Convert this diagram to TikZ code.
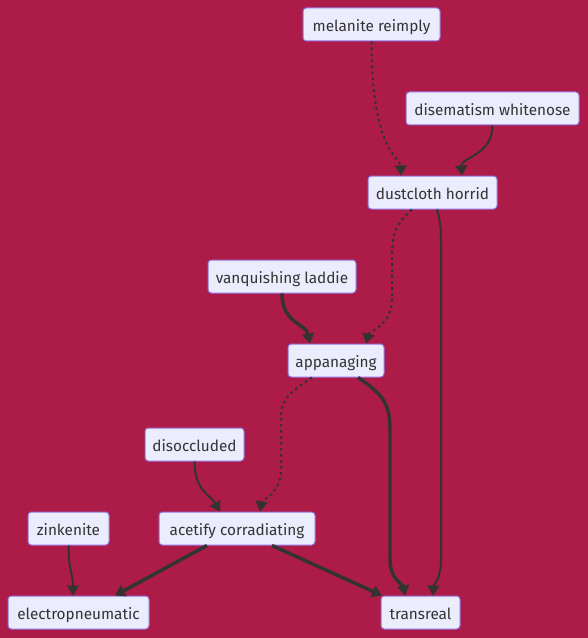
\documentclass[tikz,border=0pt]{standalone}
\usepackage{fontspec}
\setmainfont{Fira Sans}
\usetikzlibrary{arrows.meta,calc}
\definecolor{bgc}{HTML}{AD1C48}
\definecolor{nodefill}{HTML}{ECECFF}
\definecolor{nodeline}{HTML}{9370DB}
\definecolor{edgec}{HTML}{333333}
\begin{document}
\begin{tikzpicture}[x=0.75pt,y=-0.75pt,
  box/.style={draw=nodeline,fill=nodefill,line width=0.75pt,rounded corners=2.5pt,
    minimum height=24.75pt,inner xsep=0pt,inner ysep=0pt,text height=11pt,text depth=1pt,text=edgec,font=\fontsize{11.5}{14}\selectfont,anchor=center},
  tipc/.style={-{Triangle[length=7.5pt,width=9pt]}},
  normal/.style={draw=edgec,line width=1.5pt,tipc},
  thickl/.style={draw=edgec,line width=2.6pt,tipc},
  dotl/.style={draw=edgec,line width=1.5pt,dash pattern=on 2pt off 2.5pt,tipc}]
\fill[bgc] (0,0) rectangle (588,638);
\useasboundingbox (0,0) rectangle (588,638);
\node[box,minimum width=102.75pt] (mel) at (371.5,24.5) {melanite reimply};
\node[box,minimum width=129.75pt] (dis) at (492.5,108.5) {disematism whitenose};
\node[box,minimum width=96.75pt] (dust) at (432.5,192.5) {dustcloth horrid};
\node[box,minimum width=111pt] (vanq) at (282,276.5) {vanquishing laddie};
\node[box,minimum width=72pt] (app) at (336,360.5) {appanaging};
\node[box,minimum width=74.25pt] (disocc) at (194.5,444.5) {disoccluded};
\node[box,minimum width=60.75pt] (zink) at (68.5,528.5) {zinkenite};
\node[box,minimum width=117pt] (acet) at (237,528.5) {acetify corradiating};
\node[box,minimum width=105.75pt] (elec) at (78.5,612.5) {electropneumatic};
\node[box,minimum width=59.25pt] (trans) at (420.5,612.5) {transreal};
% edges
\draw[dotl] (mel.south) .. controls ($(mel.south)+(0,110)$) and ($(dust.north)+(-32,-18)$) .. ($(dust.north)+(-31.5,0)$);
\draw[normal] (dis.south) .. controls ($(dis.south)+(0,30)$) and ($(dust.north)+(28,-18)$) .. ($(dust.north)+(29.5,0)$);
\draw[dotl] ($(dust.south)+(-20.5,0)$) .. controls ($(dust.south)+(-40,18)$) and ($(dust.south)+(-40,26)$) .. ($(dust.south)+(-40.5,51)$) -- ($(app.north)+(56,-44)$) .. controls ($(app.north)+(56,-18)$) and ($(app.north)+(33,-12)$) .. ($(app.north)+(30,0)$);
\draw[normal] ($(dust.south)+(4.5,0)$) .. controls ($(dust.south)+(8.5,16)$) .. ($(dust.south)+(8.5,41)$) -- ($(trans.north)+(20.5,-36)$) .. controls ($(trans.north)+(20.5,-16)$) and ($(trans.north)+(13,-11)$) .. ($(trans.north)+(12.5,0)$);
\draw[thickl] (vanq.south) .. controls ($(vanq.south)+(0,30)$) and ($(app.north)+(-30,-20)$) .. ($(app.north)+(-26,0)$);
\draw[dotl] ($(app.south)+(-24,0)$) .. controls ($(app.south)+(-51,18)$) and ($(app.south)+(-55,23)$) .. ($(app.south)+(-55,43)$) -- ($(acet.north)+(44,-42)$) .. controls ($(acet.north)+(44,-17)$) and ($(acet.north)+(25,-12)$) .. ($(acet.north)+(23,0)$);
\draw[thickl] ($(app.south)+(22,0)$) .. controls ($(app.south)+(49,18)$) and ($(app.south)+(54,28)$) .. ($(app.south)+(54,53)$) -- ($(trans.north)+(-30.5,-36)$) .. controls ($(trans.north)+(-30.5,-16)$) and ($(trans.north)+(-17.5,-11)$) .. ($(trans.north)+(-15.5,0)$);
\draw[normal] (disocc.south) .. controls ($(disocc.south)+(0,29)$) and ($(acet.north)+(-27,-17)$) .. ($(acet.north)+(-17,0)$);
\draw[normal] (zink.south) .. controls ($(zink.south)+(0,25)$) and ($(elec.north)+(-5.5,-21)$) .. ($(elec.north)+(-5.5,0)$);
\draw[thickl] ($(acet.south)+(-30,0)$) -- ($(elec.north)+(36.5,0)$);
\draw[thickl] ($(acet.south)+(35,0)$) -- ($(trans.north)+(-38.5,0)$);
\end{tikzpicture}
\end{document}
